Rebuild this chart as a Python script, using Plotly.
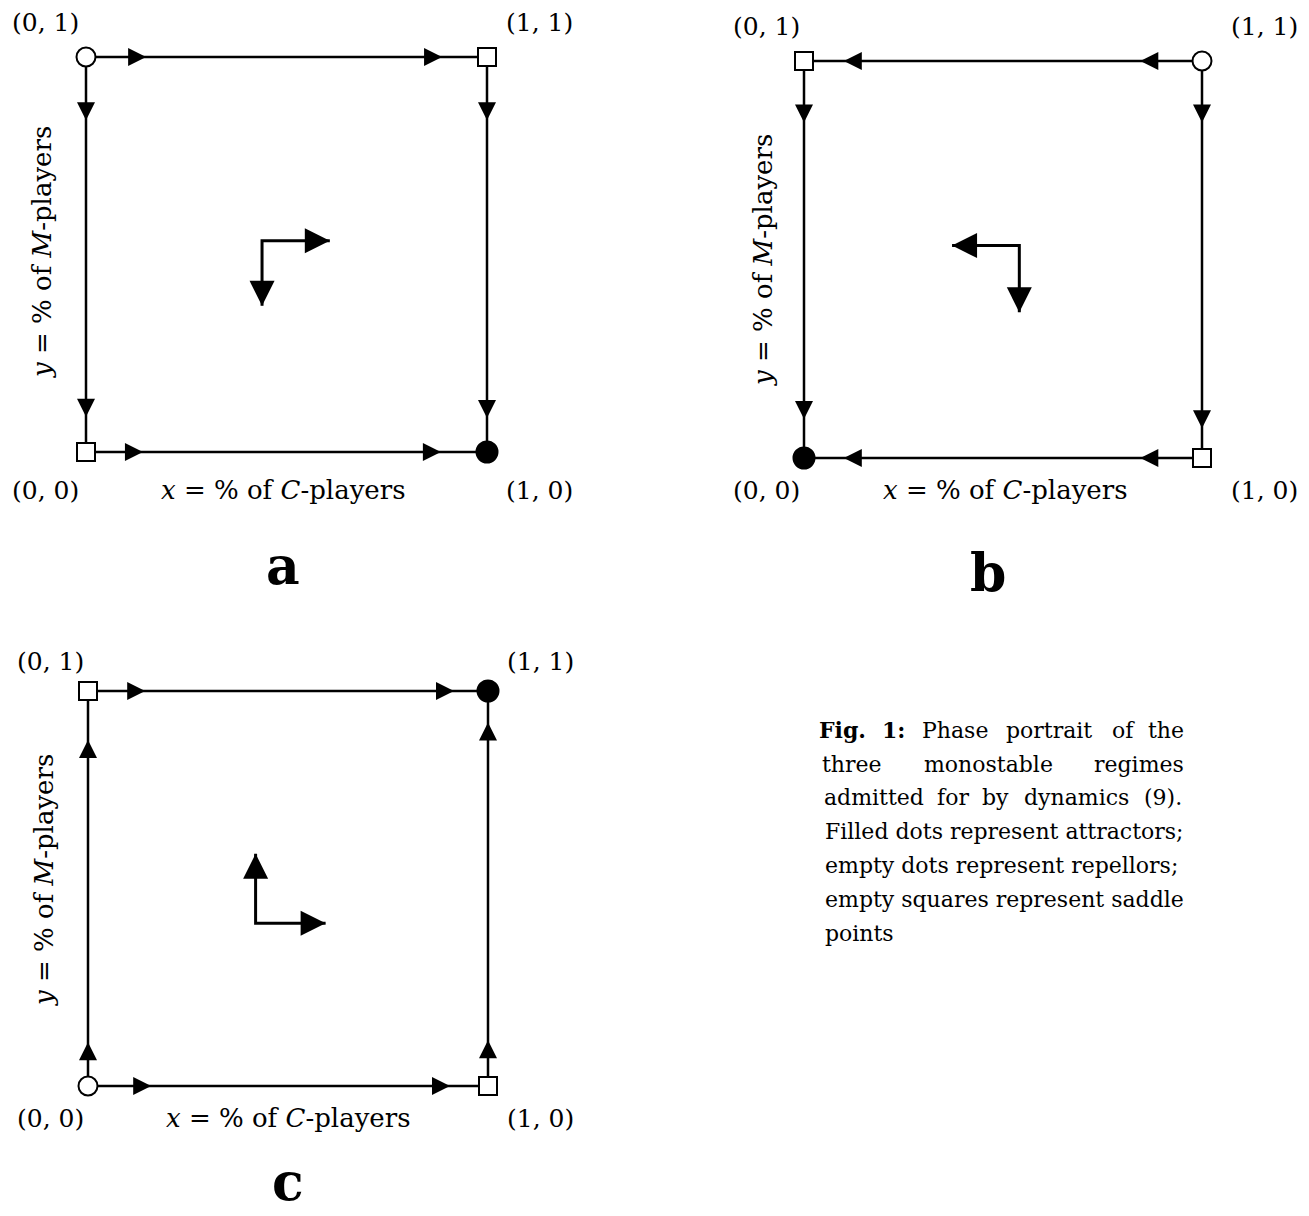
import plotly.graph_objects as go

W, H = 1309, 1216

# ---------------- data ----------------
# corners of the unit square, order: (0,0), (1,0), (0,1), (1,1)
corner_x = [0, 1, 0, 1]
corner_y = [0, 0, 1, 1]
corner_labels = ["(0, 0)", "(1, 0)", "(0, 1)", "(1, 1)"]

# equilibrium type of each corner per regime
types_a = ["saddle", "attractor", "repellor", "saddle"]
types_b = ["attractor", "saddle", "saddle", "repellor"]
types_c = ["repellor", "saddle", "saddle", "attractor"]

# arrow tips on the edges (position along the edge) and flow direction
a_top_tips, a_bottom_tips, a_h_dir = [0.15, 0.888], [0.142, 0.885], "right"
a_left_tips, a_right_tips, a_v_dir = [0.84, 0.089], [0.84, 0.086], "down"
b_top_tips, b_bottom_tips, b_h_dir = [0.10, 0.845], [0.10, 0.845], "left"
b_left_tips, b_right_tips, b_v_dir = [0.845, 0.098], [0.845, 0.075], "down"
c_top_tips, c_bottom_tips, c_h_dir = [0.143, 0.915], [0.158, 0.905], "right"
c_left_tips, c_right_tips, c_v_dir = [0.876, 0.111], [0.92, 0.116], "up"

# interior direction indicator: corner point, horizontal tip x, vertical tip y
a_center, a_center_htip, a_center_vtip = (0.439, 0.535), 0.608, 0.37
b_center, b_center_htip, b_center_vtip = (0.541, 0.535), 0.372, 0.367
c_center, c_center_htip, c_center_vtip = (0.419, 0.412), 0.594, 0.588

x_title = "<i>x</i> = % of <i>C</i>-players"
y_title = "<i>y</i> = % of <i>M</i>-players"
panel_letters = ["a", "b", "c"]

caption_lines = [
    ["<b>Fig.</b>", "<b>1:</b>", "Phase", "portrait", "of", "the"],
    ["three", "monostable", "regimes"],
    ["admitted", "for", "by", "dynamics", "(9)."],
    ["Filled dots represent attractors;"],
    ["empty dots represent repellors;"],
    ["empty squares represent saddle"],
    ["points"],
]

# ---------------- layout geometry (pixels) ----------------
FONT = "DejaVu Serif"
panels = [
    dict(box=(86, 487, 57, 452), types=types_a,
         top=a_top_tips, bottom=a_bottom_tips, hdir=a_h_dir,
         left=a_left_tips, right=a_right_tips, vdir=a_v_dir,
         center=a_center, htip=a_center_htip, vtip=a_center_vtip,
         lab_top=23, lab_bot=490, lab_lx=45, lab_rx=539, xt_x=283,
         yt=(42, 252), letter=(283, 565)),
    dict(box=(804, 1202, 61, 458), types=types_b,
         top=b_top_tips, bottom=b_bottom_tips, hdir=b_h_dir,
         left=b_left_tips, right=b_right_tips, vdir=b_v_dir,
         center=b_center, htip=b_center_htip, vtip=b_center_vtip,
         lab_top=27, lab_bot=490, lab_lx=766, lab_rx=1264, xt_x=1005,
         yt=(763, 260), letter=(988, 572)),
    dict(box=(88, 488, 691, 1086), types=types_c,
         top=c_top_tips, bottom=c_bottom_tips, hdir=c_h_dir,
         left=c_left_tips, right=c_right_tips, vdir=c_v_dir,
         center=c_center, htip=c_center_htip, vtip=c_center_vtip,
         lab_top=661, lab_bot=1118, lab_lx=50, lab_rx=540, xt_x=288,
         yt=(44, 880), letter=(288, 1181)),
]

PAD = 40
fig = go.Figure()
layout_axes = {}
annotations = []


def px(x, y):
    return x / W, 1 - y / H


def ann(x, y, text, size, **kw):
    ax, ay = px(x, y)
    d = dict(x=ax, y=ay, xref="paper", yref="paper", text=text, showarrow=False,
             xanchor="center", yanchor="middle",
             font=dict(family=FONT, size=size, color="black"))
    d.update(kw)
    annotations.append(d)


marker_style = {
    "attractor": dict(symbol="circle", size=21, color="black",
                      line=dict(color="black", width=2)),
    "repellor": dict(symbol="circle", size=19, color="white",
                     line=dict(color="black", width=2)),
    "saddle": dict(symbol="square", size=18, color="white",
                   line=dict(color="black", width=2)),
}

for i, p in enumerate(panels, start=1):
    x0, x1, yt, yb = p["box"]
    w, h = x1 - x0, yb - yt
    sx = "" if i == 1 else str(i)
    xa, ya = "x" + sx, "y" + sx
    layout_axes["xaxis" + sx] = dict(
        domain=[(x0 - PAD) / W, (x1 + PAD) / W],
        range=[-PAD / w, 1 + PAD / w], visible=False, anchor=ya)
    layout_axes["yaxis" + sx] = dict(
        domain=[1 - (yb + PAD) / H, 1 - (yt - PAD) / H],
        range=[-PAD / h, 1 + PAD / h], visible=False, anchor=xa)

    # square border through the four corners
    order = [0, 1, 3, 2, 0]
    fig.add_trace(go.Scatter(
        x=[corner_x[k] for k in order], y=[corner_y[k] for k in order],
        mode="lines", line=dict(color="black", width=2.5),
        xaxis=xa, yaxis=ya, hoverinfo="skip", showlegend=False))

    # interior L indicator
    cx, cy = p["center"]
    fig.add_trace(go.Scatter(
        x=[p["htip"], cx, cx], y=[cy, cy, p["vtip"]],
        mode="lines", line=dict(color="black", width=3),
        xaxis=xa, yaxis=ya, hoverinfo="skip", showlegend=False))
    hsym = "arrow-right" if p["htip"] > cx else "arrow-left"
    vsym = "arrow-up" if p["vtip"] > cy else "arrow-down"
    fig.add_trace(go.Scatter(
        x=[p["htip"], cx], y=[cy, p["vtip"]], mode="markers",
        marker=dict(symbol=[hsym, vsym], size=25, color="black",
                    line=dict(width=0)),
        xaxis=xa, yaxis=ya, hoverinfo="skip", showlegend=False,
        cliponaxis=False))

    # edge arrows
    hx = p["top"] + p["bottom"]
    hy = [1] * len(p["top"]) + [0] * len(p["bottom"])
    vy = p["left"] + p["right"]
    vx = [0] * len(p["left"]) + [1] * len(p["right"])
    fig.add_trace(go.Scatter(
        x=hx, y=hy, mode="markers",
        marker=dict(symbol="arrow-" + p["hdir"], size=18, color="black",
                    line=dict(width=0)),
        xaxis=xa, yaxis=ya, hoverinfo="skip", showlegend=False,
        cliponaxis=False))
    fig.add_trace(go.Scatter(
        x=vx, y=vy, mode="markers",
        marker=dict(symbol="arrow-" + p["vdir"], size=18, color="black",
                    line=dict(width=0)),
        xaxis=xa, yaxis=ya, hoverinfo="skip", showlegend=False,
        cliponaxis=False))

    # equilibria at the corners
    for t in ["saddle", "repellor", "attractor"]:
        idx = [k for k in range(4) if p["types"][k] == t]
        if not idx:
            continue
        fig.add_trace(go.Scatter(
            x=[corner_x[k] for k in idx], y=[corner_y[k] for k in idx],
            mode="markers", marker=marker_style[t],
            xaxis=xa, yaxis=ya, hoverinfo="skip", showlegend=False,
            cliponaxis=False))

    # corner labels
    for k in range(4):
        lx = p["lab_lx"] if corner_x[k] == 0 else p["lab_rx"]
        ly = p["lab_top"] if corner_y[k] == 1 else p["lab_bot"]
        ann(lx, ly, corner_labels[k], 25)
    ann(p["xt_x"], p["lab_bot"], x_title, 26)
    ann(p["yt"][0], p["yt"][1], y_title, 26, textangle=-90)
    ann(p["letter"][0], p["letter"][1], "<b>%s</b>" % panel_letters[i - 1], 52)

# caption: justified lines with word positions (centres, pixels)
cap_word_x = [
    [842, 893, 955, 1049, 1123, 1166],
    [852, 988, 1139],
    [874, 953, 995, 1076, 1163],
]
cap_y = [730, 764, 797, 831, 865, 899, 933]
for li, words in enumerate(caption_lines):
    if li < 3:
        for wd, wx in zip(words, cap_word_x[li]):
            ann(wx, cap_y[li], wd, 22)
    else:
        ann(823, cap_y[li], words[0], 22, xanchor="left")

fig.update_layout(
    width=W, height=H, margin=dict(l=0, r=0, t=0, b=0),
    paper_bgcolor="white", plot_bgcolor="white",
    annotations=annotations, showlegend=False, **layout_axes)

fig.write_html("out.html", config={"displayModeBar": False},
               post_script="document.body.style.margin='0px';")
